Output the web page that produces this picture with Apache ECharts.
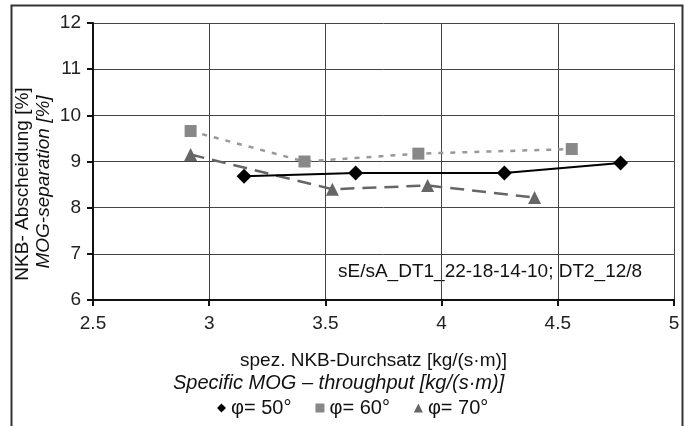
<!DOCTYPE html>
<html>
<head>
<meta charset="utf-8">
<script src="https://cdn.jsdelivr.net/npm/echarts@6/dist/echarts.min.js"></script>
<style>
  html, body { margin: 0; padding: 0; background: #fff; }
  #chart { width: 694px; height: 426px; }
</style>
</head>
<body>
<div id="chart"></div>
<script>
// values
const phi50 = [[3.15, 8.68], [3.63, 8.75], [4.27, 8.75], [4.77, 8.97]];
const phi60 = [[2.92, 9.66], [3.41, 9.0], [3.90, 9.17], [4.56, 9.27]];
const phi70 = [[2.92, 9.15], [3.53, 8.4], [3.94, 8.48], [4.40, 8.22]];
const seriesNames = ["φ= 50°", "φ= 60°", "φ= 70°"];
const xTicks = { min: 2.5, max: 5, step: 0.5 };
const yTicks = { min: 6, max: 12, step: 1 };

const chart = echarts.init(document.getElementById("chart"));
const font = "Liberation Sans, Arial, sans-serif";

const option = {
  backgroundColor: "#fff",
  animation: false,
  textStyle: { fontFamily: font },
  grid: { left: 93, right: 20, top: 23, bottom: 126 },
  legend: {
    top: 393,
    left: 212,
    itemGap: 24,
    itemWidth: 9,
    itemHeight: 9,
    textStyle: { fontSize: 20, color: "#111", fontFamily: font },
    data: [
      { name: seriesNames[0], icon: "diamond", itemStyle: { color: "#000" } },
      { name: seriesNames[1], icon: "rect", itemStyle: { color: "#888" } },
      { name: seriesNames[2], icon: "triangle", itemStyle: { color: "#666" } },
    ],
  },
  xAxis: {
    type: "value",
    min: xTicks.min,
    max: xTicks.max,
    interval: xTicks.step,
    axisLine: { lineStyle: { color: "#111", width: 2 } },
    axisTick: { show: true, length: 6, lineStyle: { color: "#111", width: 2 } },
    axisLabel: { fontSize: 19, color: "#222", margin: 14 },
    splitLine: { lineStyle: { color: "#444", width: 1 } },
  },
  yAxis: {
    type: "value",
    min: yTicks.min,
    max: yTicks.max,
    interval: yTicks.step,
    axisLine: { show: true, lineStyle: { color: "#111", width: 2 } },
    axisTick: { show: true, length: 6, lineStyle: { color: "#111", width: 2 } },
    axisLabel: { fontSize: 19, color: "#222", margin: 12 },
    splitLine: { lineStyle: { color: "#444", width: 1 } },
  },
  graphic: [
    {
      type: "rect",
      shape: { x: 11.5, y: 5.5, width: 671, height: 430 },
      style: { fill: "none", stroke: "#333", lineWidth: 2 },
      z: -1,
    },
    {
      type: "text",
      x: 23,
      y: 184,
      rotation: Math.PI / 2,
      style: { text: "NKB- Abscheidung [%]", fontSize: 19, fill: "#111", fontFamily: font, align: "center", verticalAlign: "middle" },
    },
    {
      type: "text",
      x: 44,
      y: 182,
      rotation: Math.PI / 2,
      style: { text: "MOG-separation [%]", fontSize: 19, fill: "#111", fontStyle: "italic", fontFamily: font, align: "center", verticalAlign: "middle" },
    },
    {
      type: "text",
      left: 338,
      top: 262,
      style: { text: "sE/sA_DT1_22-18-14-10; DT2_12/8", fontSize: 19, fill: "#111", fontFamily: font },
    },
    {
      type: "text",
      left: 240,
      top: 351,
      style: { text: "spez. NKB-Durchsatz [kg/(s·m)]", fontSize: 19, fill: "#111", fontFamily: font },
    },
    {
      type: "text",
      left: 173,
      top: 373,
      style: { text: "Specific MOG – throughput [kg/(s·m)]", fontSize: 20, fill: "#111", fontStyle: "italic", fontFamily: font },
    },
  ],
  series: [
    {
      name: seriesNames[0],
      type: "line",
      data: phi50,
      symbol: "diamond",
      symbolSize: 15,
      itemStyle: { color: "#000" },
      lineStyle: { color: "#000", width: 2 },
      z: 4,
    },
    {
      name: seriesNames[1],
      type: "line",
      data: phi60,
      symbol: "rect",
      symbolSize: 12,
      itemStyle: { color: "#888" },
      lineStyle: { color: "#999", width: 2.5, type: [5, 7] },
      z: 3,
    },
    {
      name: seriesNames[2],
      type: "line",
      data: phi70,
      symbol: "triangle",
      symbolSize: 13,
      itemStyle: { color: "#666" },
      lineStyle: { color: "#666", width: 2.5, type: [14, 8] },
      z: 3,
    },
  ],
};
chart.setOption(option);
</script>
</body>
</html>
